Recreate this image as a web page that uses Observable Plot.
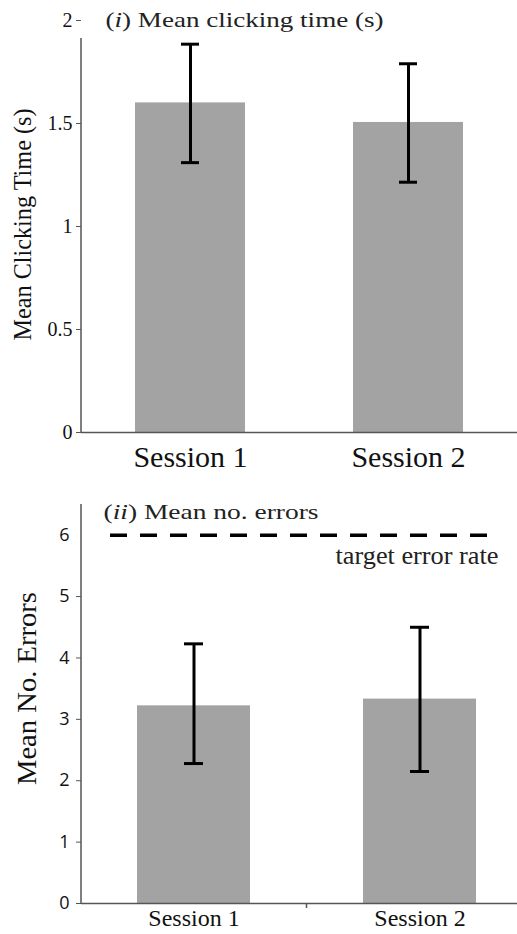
<!DOCTYPE html>
<html>
<head>
<meta charset="utf-8">
<script src="https://cdn.jsdelivr.net/npm/d3@7"></script>
<script src="https://cdn.jsdelivr.net/npm/@observablehq/plot@0.6"></script>
<style>
  html, body { margin: 0; padding: 0; background: #fff; }
  #wrap { width: 517px; }
  svg { display: block; }
</style>
</head>
<body>
<div id="wrap"></div>
<script>
// ---- data ----
const sessions = ["Session 1", "Session 2"];
const clickMean = [1.6, 1.505];
const clickLow = [1.31, 1.215];
const clickHigh = [1.885, 1.79];
const errMean = [3.22, 3.33];
const errLow = [2.28, 2.15];
const errHigh = [4.23, 4.5];
const targetErrorRate = 6;
const clickTicks = [0, 0.5, 1, 1.5, 2];
const errTicks = [0, 1, 2, 3, 4, 5];
const errTopTick = [6];

const serif = "Liberation Serif, Times New Roman, serif";
const sans = "Open Sans, DejaVu Sans, sans-serif";
const barColor = "#a3a3a3";
const axisColor = "#555";

const clickData = sessions.map((s, i) => ({s, m: clickMean[i], lo: clickLow[i], hi: clickHigh[i]}));
const errData = sessions.map((s, i) => ({s, m: errMean[i], lo: errLow[i], hi: errHigh[i]}));

function italicize(svg, cls, parts) {
  d3.select(svg).selectAll(`g.${cls} text`).each(function() {
    const t = d3.select(this);
    t.text(null);
    parts.forEach(([txt, it]) => t.append("tspan").text(txt).attr("font-style", it ? "italic" : null));
  });
}
function fit(svg, cls, len) {
  d3.select(svg).selectAll(`g.${cls} text`)
    .attr("textLength", len).attr("lengthAdjust", "spacingAndGlyphs");
}

// ---- top chart ----
const chartTop = Plot.plot({
  width: 517, height: 478,
  marginTop: 20, marginBottom: 46, marginLeft: 81, marginRight: 0,
  x: {domain: sessions, range: [81, 517], paddingInner: 0.495, paddingOuter: 0.2475},
  y: {domain: [0, 2]},
  style: {background: "white", overflow: "visible"},
  marks: [
    Plot.barY(clickData, {x: "s", y: "m", fill: barColor}),
    Plot.ruleX(clickData, {x: "s", y1: "lo", y2: "hi", stroke: "black", strokeWidth: 3}),
    Plot.tickY(clickData, {x: "s", y: "lo", stroke: "black", strokeWidth: 3, insetLeft: 46, insetRight: 46}),
    Plot.tickY(clickData, {x: "s", y: "hi", stroke: "black", strokeWidth: 3, insetLeft: 46, insetRight: 46}),
    Plot.ruleY([0], {stroke: axisColor, strokeWidth: 1.5}),
    Plot.axisY({ticks: clickTicks, tickFormat: d => String(d), tickSize: 5, tickPadding: 4, stroke: axisColor,
      fontSize: 20, fontFamily: serif, fill: "#111", label: null}),
    Plot.axisX({tickSize: 0, tickPadding: 13, fontSize: 30, fontFamily: serif, fill: "#111", label: null}),
    Plot.text(["Mean Clicking Time (s)"], {frameAnchor: "left", rotate: -90, dx: -59, dy: 114, textAnchor: "start",
      fontSize: 26, fontFamily: serif, fill: "#111", className: "ylab-i"}),
    Plot.text(["(i) Mean clicking time (s)"], {y: [2], frameAnchor: "left", dx: 24, dy: 0, textAnchor: "start",
      fontSize: 21, fontFamily: serif, fill: "#222", className: "title-i"})
  ]
});
{
  const ys = chartTop.scale("y");
  d3.select(chartTop).append("line")
    .attr("x1", 81).attr("x2", 81)
    .attr("y1", ys.apply(1.913)).attr("y2", ys.apply(0))
    .attr("stroke", axisColor).attr("stroke-width", 1.5);
  italicize(chartTop, "title-i", [["(", false], ["i", true], [") Mean clicking time (s)", false]]);
  fit(chartTop, "title-i", 278);
  fit(chartTop, "ylab-i", 232);
}

// ---- bottom chart ----
const chartBottom = Plot.plot({
  width: 517, height: 456,
  marginTop: 26, marginBottom: 31, marginLeft: 81, marginRight: 0,
  x: {domain: sessions, range: [80.25, 533.25], paddingInner: 0.501, paddingOuter: 0.2505},
  y: {domain: [0, 6.5]},
  style: {background: "white", overflow: "hidden"},
  marks: [
    Plot.barY(errData, {x: "s", y: "m", fill: barColor}),
    Plot.ruleX(errData, {x: "s", y1: "lo", y2: "hi", stroke: "black", strokeWidth: 3}),
    Plot.tickY(errData, {x: "s", y: "lo", stroke: "black", strokeWidth: 3, insetLeft: 47, insetRight: 47}),
    Plot.tickY(errData, {x: "s", y: "hi", stroke: "black", strokeWidth: 3, insetLeft: 47, insetRight: 47}),
    Plot.ruleY([targetErrorRate], {stroke: "black", strokeWidth: 3.5, strokeDasharray: "17,13", insetLeft: 29, insetRight: 19}),
    Plot.text(["target error rate"], {y: [targetErrorRate], frameAnchor: "right", textAnchor: "end", dx: -19, dy: 21,
      fontSize: 25, fontFamily: serif, fill: "#222", className: "target"}),
    Plot.ruleY([0], {stroke: axisColor, strokeWidth: 1.5}),
    Plot.axisY({ticks: errTicks, tickFormat: d => String(d), tickSize: 5, tickPadding: 7, stroke: axisColor,
      fontSize: 18, fontFamily: sans, fill: "#111", label: null}),
    Plot.axisY({ticks: errTopTick, tickFormat: d => String(d), tickSize: 0, tickPadding: 12,
      fontSize: 18, fontFamily: sans, fill: "#111", label: null}),
    Plot.axisX({tickSize: 0, tickPadding: 5, fontSize: 24, fontFamily: serif, fill: "#111", label: null}),
    Plot.text(["Mean No. Errors"], {frameAnchor: "left", rotate: -90, dx: -54, dy: 81, textAnchor: "start",
      fontSize: 28, fontFamily: serif, fill: "#111", className: "ylab-ii"}),
    Plot.text(["(ii) Mean no. errors"], {y: [6.5], frameAnchor: "left", dx: 22, dy: 8, textAnchor: "start",
      fontSize: 21, fontFamily: serif, fill: "#222", className: "title-ii"})
  ]
});
{
  const ys = chartBottom.scale("y");
  const xs = chartBottom.scale("x");
  const bw = xs.bandwidth;
  const mid = (xs.apply(sessions[0]) + xs.apply(sessions[1]) + bw) / 2;
  const svg = d3.select(chartBottom);
  svg.append("line")
    .attr("x1", 81).attr("x2", 81)
    .attr("y1", ys.apply(6.5)).attr("y2", ys.apply(0))
    .attr("stroke", axisColor).attr("stroke-width", 1.5);
  svg.append("line")
    .attr("x1", mid).attr("x2", mid)
    .attr("y1", ys.apply(0)).attr("y2", ys.apply(0) + 5)
    .attr("stroke", axisColor).attr("stroke-width", 1.5);
  italicize(chartBottom, "title-ii", [["(", false], ["ii", true], [") Mean no. errors", false]]);
  fit(chartBottom, "title-ii", 215);
  fit(chartBottom, "ylab-ii", 193);
  fit(chartBottom, "target", 163);
}

document.getElementById("wrap").append(chartTop, chartBottom);
</script>
</body>
</html>
